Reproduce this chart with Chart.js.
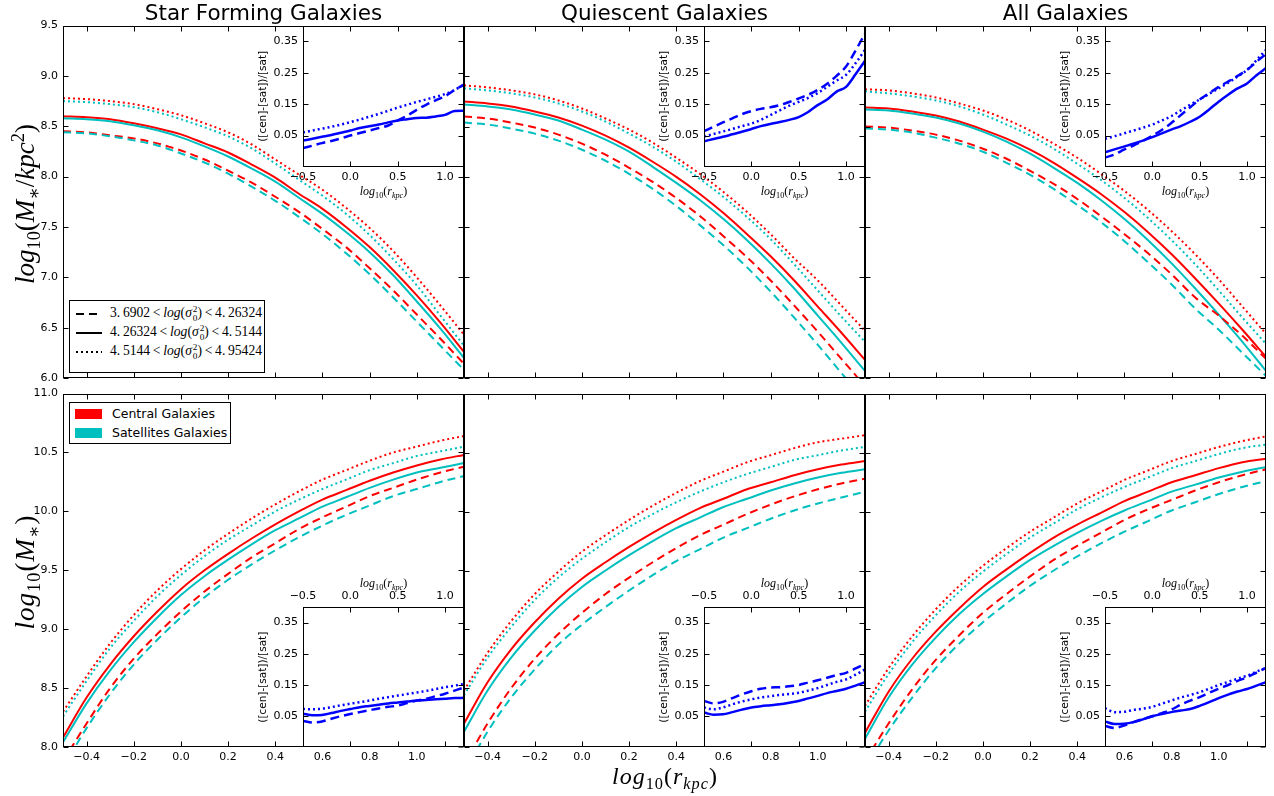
<!DOCTYPE html>
<html><head><meta charset="utf-8">
<script src="https://cdn.jsdelivr.net/npm/chart.js@4.4.1/dist/chart.umd.min.js"></script>
<style>
html,body{margin:0;padding:0;background:#fff}
body{width:1274px;height:796px;overflow:hidden;position:relative;font-family:"DejaVu Sans",sans-serif;color:#000}
canvas{position:absolute}
.t{position:absolute;white-space:nowrap;z-index:5}
.ttl{font-size:21.5px;transform:translateX(-50%);top:0px;line-height:26px}
.math{font-family:"Liberation Serif","DejaVu Serif",serif}
.rot{transform:translate(-50%,-50%) rotate(-90deg)}
.ctr{transform:translate(-50%,-50%)}
sub,sup{font-size:0.68em;line-height:0}
.legend{position:absolute;border:1px solid #000;background:#fff;z-index:6;box-sizing:border-box}
.lrow{position:absolute;left:0;height:19px;display:flex;align-items:center;white-space:nowrap}
.stack{display:inline-flex;flex-direction:column;font-size:0.68em;line-height:0.95;vertical-align:middle;margin-left:1px;font-style:normal}
</style></head><body>
<script>
// ---------------- data ----------------
const radius = [-0.5,-0.4,-0.3,-0.2,-0.1,0.0,0.1,0.2,0.3,0.4,0.5,0.6,0.7,0.8,0.9,1.0,1.1,1.2];
const mainXTicks = [-0.4,-0.2,0.0,0.2,0.4,0.6,0.8,1.0];
const densityYTicks = [6.0,6.5,7.0,7.5,8.0,8.5,9.0,9.5];
const massYTicks = [8.0,8.5,9.0,9.5,10.0,10.5,11.0];
const insetXTicks = [-0.5,0.0,0.5,1.0];
const insetYTicks = [0.05,0.15,0.25,0.35];
const panelTitles = ["Star Forming Galaxies","Quiescent Galaxies","All Galaxies"];
const groupNames = ["Central Galaxies","Satellites Galaxies"];

// surface density, star forming
const sfDenCenDash  = [8.45,8.44,8.41,8.38,8.33,8.26,8.17,8.06,7.94,7.80,7.65,7.48,7.30,7.09,6.87,6.63,6.39,6.14];
const sfDenSatDash  = [8.44,8.43,8.40,8.36,8.31,8.23,8.14,8.03,7.90,7.76,7.60,7.43,7.24,7.03,6.80,6.56,6.32,6.08];
const sfDenCenSolid = [8.60,8.59,8.57,8.53,8.48,8.42,8.33,8.24,8.12,7.99,7.83,7.68,7.50,7.30,7.07,6.82,6.55,6.26];
const sfDenSatSolid = [8.58,8.57,8.55,8.51,8.46,8.39,8.30,8.20,8.08,7.95,7.79,7.63,7.45,7.25,7.02,6.76,6.49,6.20];
const sfDenCenDot   = [8.78,8.77,8.75,8.72,8.67,8.61,8.53,8.44,8.32,8.17,8.02,7.87,7.69,7.49,7.26,7.00,6.72,6.43];
const sfDenSatDot   = [8.75,8.74,8.72,8.69,8.64,8.57,8.49,8.40,8.28,8.13,7.97,7.81,7.63,7.42,7.18,6.92,6.62,6.32];
// surface density, quiescent
const qDenCenDash  = [8.60,8.58,8.54,8.49,8.42,8.33,8.22,8.09,7.95,7.79,7.61,7.41,7.20,6.97,6.72,6.46,6.19,5.92];
const qDenSatDash  = [8.54,8.52,8.48,8.43,8.36,8.27,8.16,8.03,7.88,7.71,7.52,7.32,7.10,6.86,6.60,6.33,6.05,5.77];
const qDenCenSolid = [8.75,8.73,8.70,8.65,8.59,8.51,8.41,8.29,8.15,8.00,7.83,7.64,7.43,7.21,6.97,6.71,6.45,6.18];
const qDenSatSolid = [8.72,8.70,8.67,8.62,8.56,8.47,8.37,8.25,8.10,7.94,7.77,7.58,7.37,7.14,6.89,6.62,6.35,6.07];
const qDenCenDot   = [8.91,8.89,8.86,8.82,8.76,8.68,8.58,8.47,8.34,8.19,8.03,7.85,7.65,7.43,7.19,6.97,6.72,6.47];
const qDenSatDot   = [8.88,8.86,8.83,8.79,8.73,8.65,8.55,8.43,8.30,8.15,7.98,7.80,7.60,7.38,7.13,6.87,6.61,6.36];
// surface density, all
const allDenCenDash  = [8.50,8.49,8.46,8.42,8.36,8.28,8.18,8.06,7.93,7.78,7.61,7.43,7.24,7.03,6.80,6.62,6.42,6.19];
const allDenSatDash  = [8.48,8.47,8.44,8.39,8.33,8.25,8.14,8.02,7.88,7.72,7.55,7.36,7.15,6.93,6.69,6.48,6.25,6.02];
const allDenCenSolid = [8.69,8.68,8.65,8.61,8.55,8.47,8.38,8.27,8.14,7.99,7.83,7.65,7.45,7.23,6.99,6.74,6.48,6.21];
const allDenSatSolid = [8.67,8.66,8.63,8.59,8.53,8.45,8.35,8.23,8.09,7.94,7.77,7.58,7.37,7.14,6.89,6.63,6.36,6.07];
const allDenCenDot   = [8.87,8.86,8.83,8.79,8.73,8.66,8.57,8.46,8.33,8.19,8.03,7.86,7.67,7.46,7.23,6.98,6.71,6.44];
const allDenSatDot   = [8.85,8.83,8.80,8.76,8.70,8.62,8.52,8.41,8.28,8.13,7.97,7.79,7.59,7.37,7.13,6.87,6.60,6.34];

// enclosed mass, star forming
const sfMassCenDash  = [7.88,8.20,8.50,8.75,8.96,9.15,9.32,9.47,9.61,9.73,9.85,9.95,10.04,10.13,10.20,10.27,10.33,10.38];
const sfMassSatDash  = [7.83,8.16,8.45,8.70,8.91,9.10,9.27,9.42,9.55,9.67,9.78,9.88,9.97,10.05,10.13,10.19,10.25,10.30];
const sfMassCenSolid = [8.08,8.42,8.70,8.94,9.15,9.34,9.50,9.64,9.77,9.89,10.00,10.10,10.18,10.26,10.33,10.39,10.44,10.48];
const sfMassSatSolid = [8.04,8.37,8.65,8.89,9.10,9.29,9.45,9.59,9.72,9.84,9.94,10.04,10.12,10.20,10.27,10.33,10.37,10.41];
const sfMassCenDot   = [8.30,8.60,8.88,9.12,9.33,9.51,9.67,9.81,9.94,10.06,10.17,10.27,10.35,10.43,10.50,10.55,10.60,10.64];
const sfMassSatDot   = [8.26,8.56,8.84,9.07,9.28,9.46,9.62,9.76,9.88,10.00,10.10,10.19,10.27,10.35,10.41,10.47,10.51,10.55];
// enclosed mass, quiescent
const qMassCenDash  = [7.85,8.20,8.50,8.75,8.96,9.14,9.30,9.44,9.57,9.69,9.80,9.89,9.98,10.06,10.13,10.19,10.24,10.28];
const qMassSatDash  = [7.78,8.13,8.42,8.66,8.87,9.04,9.19,9.33,9.46,9.58,9.68,9.78,9.86,9.94,10.01,10.07,10.12,10.17];
const qMassCenSolid = [8.20,8.55,8.83,9.06,9.26,9.43,9.57,9.70,9.82,9.93,10.03,10.11,10.19,10.25,10.31,10.36,10.40,10.43];
const qMassSatSolid = [8.13,8.48,8.76,8.99,9.19,9.36,9.50,9.63,9.75,9.86,9.95,10.04,10.11,10.18,10.24,10.29,10.33,10.36];
const qMassCenDot   = [8.48,8.80,9.07,9.30,9.49,9.66,9.80,9.93,10.05,10.16,10.26,10.34,10.42,10.48,10.54,10.59,10.62,10.65];
const qMassSatDot   = [8.44,8.76,9.02,9.25,9.44,9.60,9.74,9.87,9.98,10.08,10.17,10.25,10.32,10.38,10.44,10.48,10.52,10.55];
// enclosed mass, all
const allMassCenDash  = [7.88,8.20,8.49,8.74,8.95,9.14,9.30,9.45,9.59,9.71,9.82,9.93,10.02,10.10,10.18,10.25,10.31,10.36];
const allMassSatDash  = [7.82,8.14,8.42,8.67,8.88,9.06,9.22,9.37,9.50,9.62,9.73,9.83,9.92,10.01,10.08,10.15,10.21,10.26];
const allMassCenSolid = [8.12,8.47,8.75,8.98,9.18,9.36,9.51,9.65,9.78,9.89,9.99,10.09,10.17,10.25,10.31,10.37,10.42,10.45];
const allMassSatSolid = [8.07,8.42,8.70,8.93,9.13,9.30,9.45,9.59,9.71,9.82,9.92,10.01,10.09,10.17,10.23,10.29,10.34,10.38];
const allMassCenDot   = [8.35,8.67,8.94,9.17,9.37,9.54,9.69,9.83,9.95,10.07,10.17,10.27,10.35,10.43,10.49,10.55,10.60,10.64];
const allMassSatDot   = [8.30,8.62,8.89,9.12,9.32,9.49,9.64,9.78,9.90,10.02,10.12,10.21,10.29,10.37,10.43,10.49,10.54,10.57];

// relative difference (cen-sat)/sat, density insets
const sfDenDiffDash  = [0.010,0.018,0.026,0.033,0.041,0.050,0.058,0.066,0.074,0.082,0.098,0.113,0.132,0.148,0.162,0.175,0.195,0.212];
const sfDenDiffSolid = [0.034,0.040,0.046,0.052,0.059,0.066,0.074,0.080,0.085,0.092,0.098,0.102,0.106,0.107,0.111,0.116,0.128,0.129];
const sfDenDiffDot   = [0.060,0.066,0.072,0.078,0.085,0.093,0.101,0.110,0.119,0.129,0.139,0.148,0.157,0.165,0.173,0.182,0.195,0.212];
const qDenDiffDash   = [0.064,0.078,0.092,0.105,0.118,0.128,0.135,0.140,0.147,0.157,0.168,0.180,0.195,0.215,0.240,0.270,0.320,0.375];
const qDenDiffSolid  = [0.032,0.039,0.046,0.054,0.062,0.071,0.080,0.087,0.093,0.100,0.109,0.125,0.147,0.165,0.190,0.205,0.245,0.288];
const qDenDiffDot    = [0.047,0.055,0.063,0.071,0.080,0.088,0.100,0.115,0.130,0.145,0.157,0.170,0.185,0.205,0.225,0.243,0.280,0.323];
const allDenDiffDash  = [-0.020,-0.010,0.005,0.018,0.033,0.050,0.068,0.090,0.115,0.140,0.165,0.185,0.205,0.222,0.240,0.259,0.285,0.310];
const allDenDiffSolid = [-0.003,0.006,0.015,0.024,0.034,0.045,0.057,0.069,0.080,0.094,0.110,0.133,0.158,0.180,0.200,0.216,0.242,0.265];
const allDenDiffDot   = [0.040,0.048,0.057,0.066,0.075,0.085,0.098,0.112,0.130,0.148,0.165,0.183,0.200,0.218,0.238,0.259,0.290,0.323];
// relative difference, mass insets
const sfMassDiffDash  = [0.035,0.030,0.033,0.042,0.050,0.057,0.063,0.069,0.075,0.080,0.084,0.092,0.100,0.106,0.114,0.122,0.132,0.142];
const sfMassDiffSolid = [0.058,0.053,0.054,0.060,0.067,0.073,0.079,0.083,0.087,0.091,0.094,0.097,0.100,0.102,0.104,0.106,0.108,0.109];
const sfMassDiffDot   = [0.073,0.072,0.074,0.079,0.085,0.090,0.095,0.100,0.106,0.111,0.116,0.121,0.126,0.131,0.137,0.143,0.148,0.153];
const qMassDiffDash   = [0.099,0.091,0.096,0.108,0.120,0.130,0.138,0.142,0.143,0.146,0.150,0.158,0.165,0.173,0.182,0.189,0.203,0.218];
const qMassDiffSolid  = [0.062,0.055,0.056,0.063,0.071,0.078,0.082,0.085,0.088,0.093,0.099,0.107,0.115,0.124,0.131,0.138,0.148,0.159];
const qMassDiffDot    = [0.078,0.072,0.078,0.088,0.097,0.104,0.110,0.114,0.118,0.121,0.125,0.132,0.140,0.150,0.160,0.168,0.183,0.200];
const allMassDiffDash  = [0.019,0.012,0.020,0.031,0.041,0.050,0.060,0.071,0.087,0.100,0.111,0.125,0.138,0.150,0.163,0.175,0.190,0.205];
const allMassDiffSolid = [0.033,0.025,0.026,0.031,0.040,0.050,0.057,0.063,0.068,0.073,0.083,0.095,0.108,0.119,0.129,0.137,0.148,0.159];
const allMassDiffDot   = [0.076,0.063,0.064,0.070,0.074,0.080,0.090,0.100,0.110,0.118,0.127,0.138,0.150,0.160,0.170,0.180,0.193,0.205];

// ---------------- drawing ----------------
const RED = '#ff0000', CYAN = '#00bfbf', BLUE = '#0000ff';
const DASH = [8,5], DOT = [2,3], IDASH = [9,5], IDOT = [2,3];
Chart.defaults.font.family = '"DejaVu Sans", sans-serif';
Chart.defaults.color = '#000';

function fmt(d){ return v => (v < -1e-9 ? '\u2212' : '') + Math.abs(v).toFixed(d); }

const framePlugin = {
  id: 'frame',
  beforeDraw(chart, args, opts){
    if (opts.fill){
      const a = chart.chartArea, ctx = chart.ctx;
      ctx.save(); ctx.fillStyle = '#fff'; ctx.fillRect(a.left, a.top, a.width, a.height); ctx.restore();
    }
  },
  afterDraw(chart, args, opts){
    const a = chart.chartArea, ctx = chart.ctx, sx = chart.scales.x, sy = chart.scales.y;
    const L = Math.round(a.left)+0.5, R = Math.round(a.right)-0.5, T = Math.round(a.top)+0.5, B = Math.round(a.bottom)-0.5;
    const tl = opts.tick || 5;
    ctx.save(); ctx.strokeStyle = '#000'; ctx.lineWidth = 1; ctx.setLineDash([]);
    ctx.beginPath();
    sx.ticks.forEach(t => { const p = Math.round(sx.getPixelForValue(t.value))+0.5; ctx.moveTo(p,T); ctx.lineTo(p,T+tl); ctx.moveTo(p,B); ctx.lineTo(p,B-tl); });
    sy.ticks.forEach(t => { const p = Math.round(sy.getPixelForValue(t.value))+0.5; ctx.moveTo(L,p); ctx.lineTo(L+tl,p); ctx.moveTo(R,p); ctx.lineTo(R-tl,p); });
    ctx.stroke();
    ctx.strokeRect(L, T, R-L, B-T);
    ctx.restore();
  }
};

function series(vals, color, dash, width){
  return { data: radius.map((x,i)=>({x, y: vals[i]})), borderColor: color, borderWidth: width,
           borderDash: dash, pointRadius: 0, fill: false, tension: 0, clip: 0,
           cubicInterpolationMode: 'monotone' };
}

function place(box, pad, makeCfg, z){
  let W = box.w + pad.l + pad.r, H = box.h + pad.t + pad.b, chart, cv;
  for (let it = 0; it < 4; it++){
    cv = document.createElement('canvas');
    cv.width = W; cv.height = H;
    cv.style.width = W+'px'; cv.style.height = H+'px'; cv.style.zIndex = z;
    document.body.appendChild(cv);
    chart = new Chart(cv, makeCfg());
    const ca = chart.chartArea;
    const dw = Math.round(box.w - (ca.right-ca.left)), dh = Math.round(box.h - (ca.bottom-ca.top));
    if ((dw === 0 && dh === 0) || it === 3){
      cv.style.left = Math.round(box.x - ca.left)+'px';
      cv.style.top = Math.round(box.y - ca.top)+'px';
      break;
    }
    chart.destroy(); cv.remove();
    W += dw; H += dh;
  }
  return chart;
}

const colLeft = [63, 464, 865], colW = 401;
const rowBox = [{y:26,h:352},{y:394,h:353}];

function mainCfg(dsets, yMin, yMax, yTicks, showX, showY, pad){
  return () => ({
    type: 'line',
    data: { datasets: dsets },
    options: {
      responsive: false, maintainAspectRatio: false, animation: false, events: [],
      layout: { padding: { top: pad.t, right: pad.r, left: 0, bottom: 0 } },
      plugins: { legend: { display: false }, tooltip: { enabled: false }, frame: { tick: 5 } },
      scales: {
        x: { type: 'linear', min: -0.5, max: 1.2,
             grid: { display: false, drawTicks: false }, border: { display: false },
             ticks: { display: showX, padding: 4, font: { size: 11 }, color: '#000', callback: fmt(1), maxRotation: 0 },
             afterBuildTicks: s => { s.ticks = mainXTicks.map(v => ({value: v})); },
             afterFit: s => { s.height = pad.b; } },
        y: { type: 'linear', min: yMin, max: yMax,
             grid: { display: false, drawTicks: false }, border: { display: false },
             ticks: { display: showY, padding: 5, font: { size: 11 }, color: '#000', callback: fmt(1) },
             afterBuildTicks: s => { s.ticks = yTicks.map(v => ({value: v})); },
             afterFit: s => { s.width = pad.l; } }
      }
    },
    plugins: [framePlugin]
  });
}

function insetCfg(dsets, xPos, pad){
  return () => ({
    type: 'line',
    data: { datasets: dsets },
    options: {
      responsive: false, maintainAspectRatio: false, animation: false, events: [],
      layout: { padding: xPos === 'top' ? { top: 0, right: pad.r, bottom: pad.b, left: 0 } : { top: pad.t, right: pad.r, bottom: 0, left: 0 } },
      plugins: { legend: { display: false }, tooltip: { enabled: false }, frame: { tick: 5, fill: true } },
      scales: {
        x: { type: 'linear', position: xPos, min: -0.5, max: 1.2,
             grid: { display: false, drawTicks: false }, border: { display: false },
             ticks: { padding: 4, font: { size: 11 }, color: '#000', callback: fmt(1), maxRotation: 0 },
             afterBuildTicks: s => { s.ticks = insetXTicks.map(v => ({value: v})); },
             afterFit: s => { s.height = xPos === 'top' ? pad.t : pad.b; } },
        y: { type: 'linear', min: -0.05, max: 0.40,
             grid: { display: false, drawTicks: false }, border: { display: false },
             ticks: { padding: 5, font: { size: 11 }, color: '#000', callback: fmt(2) },
             title: { display: true, text: '([cen]-[sat])/[sat]', font: { size: 10.5 }, color: '#000', padding: { top: 4, bottom: 0 } },
             afterBuildTicks: s => { s.ticks = insetYTicks.map(v => ({value: v})); },
             afterFit: s => { s.width = pad.l; } }
      }
    },
    plugins: [framePlugin]
  });
}

const densitySets = [
  [sfDenCenDash, sfDenSatDash, sfDenCenSolid, sfDenSatSolid, sfDenCenDot, sfDenSatDot],
  [qDenCenDash, qDenSatDash, qDenCenSolid, qDenSatSolid, qDenCenDot, qDenSatDot],
  [allDenCenDash, allDenSatDash, allDenCenSolid, allDenSatSolid, allDenCenDot, allDenSatDot]
];
const massSets = [
  [sfMassCenDash, sfMassSatDash, sfMassCenSolid, sfMassSatSolid, sfMassCenDot, sfMassSatDot],
  [qMassCenDash, qMassSatDash, qMassCenSolid, qMassSatSolid, qMassCenDot, qMassSatDot],
  [allMassCenDash, allMassSatDash, allMassCenSolid, allMassSatSolid, allMassCenDot, allMassSatDot]
];
const denDiffSets = [
  [sfDenDiffDash, sfDenDiffSolid, sfDenDiffDot],
  [qDenDiffDash, qDenDiffSolid, qDenDiffDot],
  [allDenDiffDash, allDenDiffSolid, allDenDiffDot]
];
const massDiffSets = [
  [sfMassDiffDash, sfMassDiffSolid, sfMassDiffDot],
  [qMassDiffDash, qMassDiffSolid, qMassDiffDot],
  [allMassDiffDash, allMassDiffSolid, allMassDiffDot]
];

function mainDatasets(s){
  return [
    series(s[1], CYAN, DASH, 2), series(s[0], RED, DASH, 2),
    series(s[5], CYAN, DOT, 2), series(s[4], RED, DOT, 2),
    series(s[3], CYAN, [], 2), series(s[2], RED, [], 2)
  ];
}
function insetDatasets(s){
  return [ series(s[2], BLUE, IDOT, 2.5), series(s[0], BLUE, IDASH, 2.5), series(s[1], BLUE, [], 2.5) ];
}

const mainPad = { l: 46, r: 8, t: 8, b: 26 };
for (let c = 0; c < 3; c++){
  place({x: colLeft[c], y: rowBox[0].y, w: colW, h: rowBox[0].h}, mainPad,
        mainCfg(mainDatasets(densitySets[c]), 6.0, 9.5, densityYTicks, false, c === 0, mainPad), 1);
  place({x: colLeft[c], y: rowBox[1].y, w: colW, h: rowBox[1].h}, mainPad,
        mainCfg(mainDatasets(massSets[c]), 8.0, 11.0, massYTicks, true, c === 0, mainPad), 1);
}
const inPadTop = { l: 50, r: 4, t: 4, b: 22 };
const inPadBot = { l: 50, r: 4, t: 22, b: 4 };
for (let c = 0; c < 3; c++){
  place({x: colLeft[c] + 240, y: 26, w: 161, h: 141}, inPadTop, insetCfg(insetDatasets(denDiffSets[c]), 'bottom', inPadTop), 2);
  place({x: colLeft[c] + 240, y: 607, w: 161, h: 140}, inPadBot, insetCfg(insetDatasets(massDiffSets[c]), 'top', inPadBot), 2);
}

// ---------------- text ----------------
function addText(html, cls, x, y, style){
  const d = document.createElement('div');
  d.className = 't ' + cls; d.innerHTML = html;
  d.style.left = x + 'px'; d.style.top = y + 'px';
  if (style) d.style.cssText += style;
  document.body.appendChild(d);
  return d;
}
for (let c = 0; c < 3; c++){
  addText(panelTitles[c], 'ttl', colLeft[c] + colW/2, 0);
  const rl = '<i>log</i><sub>10</sub>(<i>r</i><sub><i>kpc</i></sub>)';
  addText(rl, 'math ctr', colLeft[c] + 240 + 80.5, 191, 'font-size:12px');
  addText(rl, 'math ctr', colLeft[c] + 240 + 80.5, 583, 'font-size:12px');
}
addText('<i>log</i><sub>10</sub>(<i>M</i><sub>\u2217</sub>/<i>kpc</i><sup>2</sup>)', 'math rot', 25, 204, 'font-size:27px;letter-spacing:0px');
addText('<i>log</i><sub>10</sub>(<i>M</i><sub>\u2217</sub>)', 'math rot', 25, 572, 'font-size:27px;letter-spacing:1px');
addText('<i>log</i><sub>10</sub>(<i>r</i><sub><i>kpc</i></sub>)', 'math ctr', 665, 776, 'font-size:24px;letter-spacing:1px');

// legend 1 (line styles)
const lineLabels = [
  ['3.\u20096902', '4.\u200926324', '8,5'],
  ['4.\u200926324', '4.\u20095144', ''],
  ['4.\u20095144', '4.\u200995424', '2,3']
];
const lg1 = document.createElement('div');
lg1.className = 'legend';
lg1.style.cssText += 'left:69px;top:300px;width:196px;height:73px;';
lineLabels.forEach((r, i) => {
  const row = document.createElement('div');
  row.className = 'lrow math';
  row.style.top = (3 + i*19) + 'px';
  row.style.fontSize = '13.6px';
  const dash = r[2] ? `stroke-dasharray="${r[2]}"` : '';
  row.innerHTML = `<svg width="40" height="19" style="flex:none"><line x1="6" y1="10" x2="32" y2="10" stroke="#000" stroke-width="2" ${dash}/></svg>` +
    `<span>${r[0]}&thinsp;&lt;&thinsp;<i>log</i>(<i>σ</i><span class="stack"><span>2</span><span>0</span></span>)&thinsp;&lt;&thinsp;${r[1]}</span>`;
  lg1.appendChild(row);
});
document.body.appendChild(lg1);

// legend 2 (colours)
const lg2 = document.createElement('div');
lg2.className = 'legend';
lg2.style.cssText += 'left:69px;top:402px;width:162px;height:42px;';
[[RED, groupNames[0]], [CYAN, groupNames[1]]].forEach((r, i) => {
  const row = document.createElement('div');
  row.className = 'lrow';
  row.style.top = (1 + i*19) + 'px';
  row.style.fontSize = '12.5px';
  row.innerHTML = `<span style="display:inline-block;width:27px;height:10px;background:${r[0]};margin:0 10px 0 5px"></span><span>${r[1]}</span>`;
  lg2.appendChild(row);
});
document.body.appendChild(lg2);
</script>
</body></html>
